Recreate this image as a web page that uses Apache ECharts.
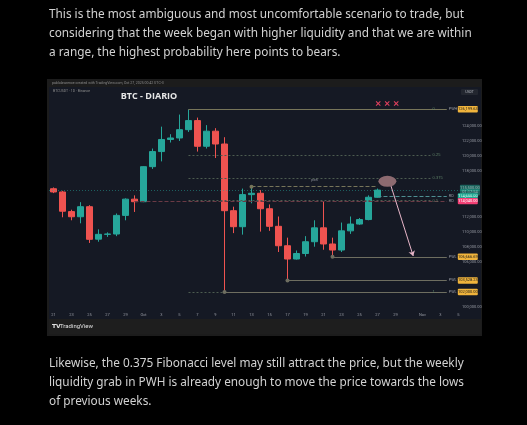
<!DOCTYPE html>
<html><head><meta charset="utf-8">
<script src="https://cdn.jsdelivr.net/npm/echarts@6/dist/echarts.min.js"></script>
<style>html,body{margin:0;padding:0;background:#000;}#c{width:527px;height:425px;}</style>
</head><body><div id="c"></div>
<script>
// ---- data ----
const dates = ['Sep 21','Sep 22','Sep 23','Sep 24','Sep 25','Sep 26','Sep 27','Sep 28','Sep 29','Sep 30',
  'Oct 1','Oct 2','Oct 3','Oct 4','Oct 5','Oct 6','Oct 7','Oct 8','Oct 9','Oct 10','Oct 11','Oct 12','Oct 13',
  'Oct 14','Oct 15','Oct 16','Oct 17','Oct 18','Oct 19','Oct 20','Oct 21','Oct 22','Oct 23','Oct 24','Oct 25','Oct 26','Oct 27'];
const opens  = [115680,115250,112650,111970,113300,109000,109640,109680,112150,114300,113960,118600,120600,122200,122400,123500,124700,121300,123300,121600,112770,110650,114900,115080,113030,110700,108130,106370,107100,108660,110500,108360,107560,110100,111000,111600,114550];
const closes = [115250,112700,111970,113300,108980,109640,109680,112150,114300,113960,118600,120600,122200,122400,123500,124700,121300,123300,121600,112770,110650,114900,115080,113030,110700,108130,106370,107100,108660,110500,108360,107560,110100,111000,111600,114550,115500];
const lows   = [115100,111900,111500,111100,108500,108660,109300,109400,111500,112600,113900,118300,119300,121800,122000,123200,120600,121000,119750,102000,109800,109600,113750,110000,110100,107300,103530,106300,106700,108000,107600,106670,107300,109700,110900,111500,114500];
const highs  = [115850,115400,112900,113900,113500,110300,109900,112400,114400,114800,118650,121000,123900,122900,125500,126200,125100,124100,123700,122500,113300,115700,115950,115500,113600,112000,109200,107500,109400,111500,114000,109200,111200,112000,111800,114800,115700];
const timeTickIdx  = [0,2,4,6,8,10,12,14,16,18,20,22,24,26,28,30,32,34,36,38,41,43,45];
const timeTickText = ['21','23','25','27','29','Oct','3','5','7','9','11','13','15','17','19','21','23','25','27','29','Nov','3','5'];
const priceTicks = [124000,122000,120000,118000,112000,110000,108000,106000,100000];
const pwh = 126199.63;
const pwlLevels = [106666.69, 103528.23, 102000.00];
const pwlStartIdx = [31, 26, 19];
const oldHigh = 115950;      // Oct 13 high
const fibLevels = [0, 0.25, 0.375, 0.5, 1];
const fibHigh = 126199.63, fibLow = 102000;
const lastPrice = 115500;
const countdown = '01:17:54';
const tealLine = 114650;
const redLine = 114040;

const candles = dates.map((d, i) => [i, opens[i], closes[i], lows[i], highs[i]]);
const fmt = v => v.toLocaleString('en-US', {minimumFractionDigits: 2, maximumFractionDigits: 2});

const chart = echarts.init(document.getElementById('c'), null, {renderer: 'canvas'});
const END = 43.7, FIB_END = 41.9;
const tagRich = (bg, fg) => ({
  n: {fontSize: 3.8, color: '#9598a1', fontFamily: 'Roboto', width: 9},
  t: {fontSize: 4, color: fg, backgroundColor: bg, padding: [1.2, 1.5], borderRadius: 1, fontFamily: 'Roboto', width: 17, align: 'center'}
});

const markLines = [];
// fib lines
fibLevels.forEach(l => {
  const p = fibHigh - l * (fibHigh - fibLow);
  markLines.push([
    {coord: [15, p], lineStyle: {color: '#4d5c50', type: [2, 2], width: 1},
     label: {show: true, position: 'end', distance: 2, formatter: String(l), fontSize: 4, color: '#5f8268'}},
    {coord: [FIB_END, p]}
  ]);
});
// PWH
markLines.push([
  {coord: [15, pwh], lineStyle: {color: '#77755a', type: 'solid', width: 1},
   label: {show: true, position: 'end', distance: 2, formatter: '{n|PWH}{t|' + fmt(pwh) + '}', rich: tagRich('#f0b43c', '#1a1a1a')}},
  {coord: [END, pwh]}
]);
// PWL
pwlLevels.forEach((p, k) => {
  markLines.push([
    {coord: [pwlStartIdx[k], p], symbol: 'circle', symbolSize: 4, lineStyle: {color: '#6e6e60', type: 'solid', width: 1},
     label: {show: true, position: 'end', distance: 2, formatter: '{n|PWL}{t|' + fmt(p) + '}', rich: tagRich('#f0b43c', '#1a1a1a')}},
    {coord: [END, p], symbol: 'none'}
  ]);
});
// old high line
markLines.push([
  {coord: [22, oldHigh], symbol: 'circle', symbolSize: 4, lineStyle: {color: '#77755a', width: 1},
   label: {show: true, position: 'middle', formatter: 'pwh', fontSize: 3.5, color: '#9598a1'}},
  {coord: [36, oldHigh], symbol: 'none'}
]);
// teal horizontal
markLines.push([
  {coord: [36, tealLine], lineStyle: {color: '#4f8f92', width: 1},
   label: {show: true, position: 'end', distance: 2, formatter: '{n|RD}{t|' + fmt(tealLine) + '}', rich: tagRich('#22ab94', '#fff')}},
  {coord: [END, tealLine]}
]);
// red horizontal
markLines.push([
  {coord: [9, redLine], lineStyle: {color: '#6a3a45', width: 1},
   label: {show: true, position: 'end', distance: 2, formatter: '{n|RD}{t|' + fmt(redLine) + '}', rich: tagRich('#f23f74', '#fff')}},
  {coord: [END, redLine]}
]);
// current price dotted
markLines.push([
  {coord: [-0.5, lastPrice], lineStyle: {color: '#26a69a', type: [1, 2], width: 1, opacity: 0.5},
   label: {show: true, position: 'end', distance: 1, formatter: '{t|' + fmt(lastPrice) + '}\n{t|' + countdown + '}',
     rich: tagRich('#22ab94', '#fff'), lineHeight: 4.5}},
  {coord: [45.05, lastPrice]}
]);
// arrow
markLines.push([
  {coord: [37.5, 116040], lineStyle: {color: '#e8b6c9', width: 1, type: 'solid'}, symbol: 'none', label: {show: false}},
  {coord: [39.97, 106770], symbol: 'arrow', symbolSize: 5}
]);

const xPath = 'path://M0,1.5 L1.5,0 L5,3.5 L8.5,0 L10,1.5 L6.5,5 L10,8.5 L8.5,10 L5,6.5 L1.5,10 L0,8.5 L3.5,5 Z';
const ellipsePath = 'path://M0,10 A10,10 0 1,1 20,10 A10,10 0 1,1 0,10 Z';
const para = '11.8px "Noto Sans"';
const paraColor = '#d2d2d2';

const option = {
  backgroundColor: '#000',
  animation: false,
  graphic: [
    {type: 'rect', shape: {x: 47, y: 79, width: 435, height: 257}, style: {fill: '#1c1c1c'}},
    {type: 'rect', shape: {x: 49, y: 87, width: 432, height: 232}, style: {fill: '#151924'}},
    {type: 'rect', shape: {x: 49, y: 319, width: 432, height: 15}, style: {fill: '#1e1e1e'}},
    {type: 'text', x: 52, y: 83, style: {text: 'pablolawrence created with TradingView.com, Oct 27, 2025 00:42 UTC-3', fill: '#8a8a8a', font: '3.5px Roboto', verticalAlign: 'middle'}},
    {type: 'text', x: 53, y: 91, style: {text: 'BTCUSDT · 1D · Binance', fill: '#8a8a8a', font: '3.5px Roboto', verticalAlign: 'middle'}},
    {type: 'text', x: 149, y: 96, style: {text: 'BTC - DIARIO', fill: '#e6e6e6', font: 'bold 9px "Open Sans"', align: 'center', verticalAlign: 'middle'}},
    {type: 'rect', shape: {x: 461, y: 89, width: 17, height: 6, r: 1}, style: {fill: '#22262f'}},
    {type: 'text', x: 469.5, y: 92, style: {text: 'USDT', fill: '#b2b5be', font: '3.5px Roboto', align: 'center', verticalAlign: 'middle'}},
    {type: 'text', x: 52, y: 326, style: {text: '𝗧𝗩', fill: '#e0e0e0', font: 'bold 6px Roboto', verticalAlign: 'middle'}},
    {type: 'text', x: 60, y: 326, style: {text: 'TradingView', fill: '#e0e0e0', font: '6px Roboto', verticalAlign: 'middle'}},
    {type: 'text', x: 49, y: 14.7, style: {text: 'This is the most ambiguous and most uncomfortable scenario to trade, but', fill: paraColor, font: para, verticalAlign: 'middle'}},
    {type: 'text', x: 49, y: 33.5, style: {text: 'considering that the week began with higher liquidity and that we are within', fill: paraColor, font: para, verticalAlign: 'middle'}},
    {type: 'text', x: 49, y: 52.5, style: {text: 'a range, the highest probability here points to bears.', fill: paraColor, font: para, verticalAlign: 'middle'}},
    {type: 'text', x: 49, y: 363.3, style: {text: 'Likewise, the 0.375 Fibonacci level may still attract the price, but the weekly', fill: paraColor, font: para, verticalAlign: 'middle'}},
    {type: 'text', x: 49, y: 382.5, style: {text: 'liquidity grab in PWH is already enough to move the price towards the lows', fill: paraColor, font: para, verticalAlign: 'middle'}},
    {type: 'text', x: 49, y: 401.7, style: {text: 'of previous weeks.', fill: paraColor, font: para, verticalAlign: 'middle'}}
  ],
  grid: {left: 49, right: 68, top: 87, bottom: 115},
  xAxis: {
    type: 'value', min: -0.5, max: 45.056,
    axisLine: {show: false}, axisTick: {show: false}, splitLine: {show: false},
    axisLabel: {customValues: timeTickIdx, formatter: v => timeTickText[timeTickIdx.indexOf(Math.round(v))] || '',
      fontSize: 4, color: '#9598a1', margin: 2.5, fontFamily: 'Roboto'}
  },
  yAxis: {
    type: 'value', position: 'right', min: 99620, max: 129150, scale: true,
    axisLine: {show: false}, axisTick: {show: false}, splitLine: {show: false},
    axisLabel: {customValues: priceTicks, formatter: v => fmt(v), fontSize: 4, color: '#9598a1', margin: 3, fontFamily: 'Roboto'}
  },
  series: [
    {
      type: 'candlestick', data: candles, encode: {x: 0, y: [1, 2, 3, 4]}, barWidth: 6,
      itemStyle: {color: '#26a69a', color0: '#ef5350', borderColor: '#26a69a', borderColor0: '#ef5350', borderWidth: 1},
      markLine: {silent: true, symbol: ['none', 'none'], symbolSize: 4, animation: false,
        itemStyle: {color: '#b2b5be'}, data: markLines},
      markPoint: {silent: true, label: {show: false}, data: [
        {coord: [37.1, 116660], symbol: ellipsePath, symbolSize: [18, 11], itemStyle: {color: '#8c6a70'}},
        {coord: [36.08, 126950], symbol: xPath, symbolSize: 5, itemStyle: {color: '#e0405e'}},
        {coord: [37.08, 126950], symbol: xPath, symbolSize: 5, itemStyle: {color: '#e0405e'}},
        {coord: [38.08, 126950], symbol: xPath, symbolSize: 5, itemStyle: {color: '#e0405e'}}
      ]}
    }
  ]
};
chart.setOption(option);
</script></body></html>
